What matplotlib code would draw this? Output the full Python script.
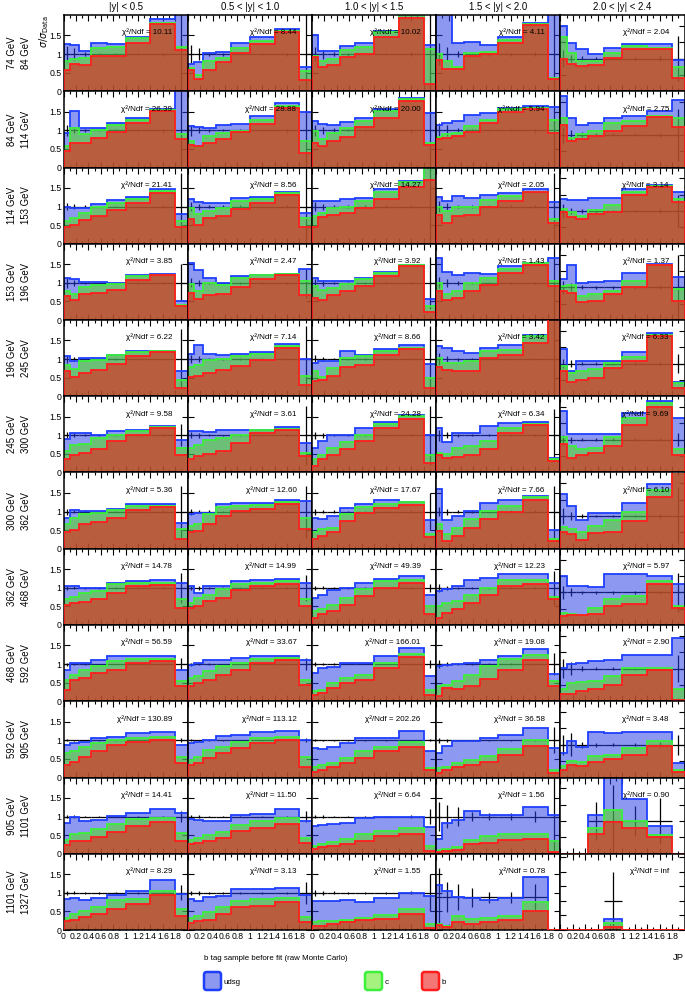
import numpy as np
import matplotlib
matplotlib.use('Agg')
import matplotlib.pyplot as plt
from matplotlib.patches import FancyBboxPatch

plt.rcParams['font.family'] = ['Liberation Sans', 'DejaVu Sans']
plt.rcParams['mathtext.fontset'] = 'dejavusans'

nan = np.nan

# JP discriminator binning and the row / column categories
jp_edges = [0, 0.1, 0.25, 0.45, 0.7, 1.0, 1.4, 1.8, 2.0]
rapidity_bins = ['|y| < 0.5', '0.5 < |y| < 1.0', '1.0 < |y| < 1.5',
                 '1.5 < |y| < 2.0', '2.0 < |y| < 2.4']
pt_edges = [74, 84, 114, 153, 196, 245, 300, 362, 468, 592, 905, 1101, 1327]

chi2_ndf = [
    ['10.11', '8.44', '10.02', '4.11', '2.04'],
    ['26.39', '28.88', '20.00', '5.94', '2.75'],
    ['21.41', '8.56', '14.27', '2.05', '3.14'],
    ['3.85', '2.47', '3.92', '1.43', '1.37'],
    ['6.22', '7.14', '8.66', '3.42', '6.33'],
    ['9.58', '3.61', '24.28', '6.34', '9.69'],
    ['5.36', '12.60', '17.67', '7.66', '6.10'],
    ['14.78', '14.99', '49.39', '12.23', '5.97'],
    ['56.59', '33.67', '166.01', '19.08', '2.90'],
    ['130.89', '113.12', '202.26', '36.58', '3.48'],
    ['14.41', '11.50', '6.64', '1.56', '0.90'],
    ['8.29', '3.13', '1.55', '0.78', 'inf'],
]

# stacked heights (sigma/sigma_data): udsg+c+b, c+b, b
stack_udsg = [
    [[1.28, 1.25, 1.09, 1.3, 1.27, 1.45, 1.95, 2.2], [0.72, 0.78, 1.04, 1.05, 1.3, 1.45, 1.68, 0.64],
     [1.5, 1.07, 1.07, 1.22, 1.31, 1.63, 2.2, 1.25], [2.2, 2.2, 1.31, 1.33, 1.24, 1.45, 1.83, 2.2],
     [2.0, 1.47, 1.28, 1.13, 1.33, 1.45, 1.43, 0.97]],
    [[0.94, 1.52, 1.07, 1.07, 1.2, 1.32, 1.56, 2.2], [1.12, 1.1, 1.07, 1.13, 1.18, 1.38, 1.74, 1.5],
     [1.25, 1.16, 1.13, 1.21, 1.34, 1.56, 1.88, 1.47], [1.13, 1.19, 1.25, 1.4, 1.47, 1.6, 1.65, 1.63],
     [2.17, 1.52, 1.31, 1.36, 1.52, 1.57, 1.72, 2.05]],
    [[1.0, 0.95, 0.95, 1.06, 1.17, 1.25, 1.47, 0.79], [1.2, 1.12, 1.09, 1.1, 1.24, 1.27, 1.4, 0.84],
     [1.15, 1.16, 1.16, 1.2, 1.22, 1.47, 1.69, 2.25], [1.26, 1.15, 1.29, 1.23, 1.31, 1.36, 1.47, 1.12],
     [1.37, 1.34, 1.35, 1.4, 1.4, 1.66, 1.78, 1.58]],
    [[1.13, 1.1, 1.02, 1.02, 1.0, 1.22, 1.25, 0.52], [1.54, 1.34, 1.13, 1.0, 1.18, 1.22, 1.25, 1.36],
     [1.13, 1.04, 1.04, 1.04, 1.13, 1.29, 1.49, 0.57], [1.67, 1.3, 1.2, 1.27, 1.25, 1.45, 1.54, 1.67],
     [1.25, 1.67, 1.13, 1.15, 1.2, 1.45, 1.71, 1.3]],
    [[1.07, 0.94, 1.04, 1.02, 1.12, 1.21, 1.23, 0.69], [1.13, 1.38, 1.13, 1.1, 1.13, 1.2, 1.4, 1.0],
     [0.89, 0.94, 0.94, 1.21, 1.12, 1.28, 1.37, 0.87], [1.34, 1.29, 1.21, 1.16, 1.31, 1.38, 1.65, 2.2],
     [1.44, 0.77, 1.08, 1.08, 1.08, 1.35, 1.92, 0.44]],
    [[0.91, 1.06, 1.06, 1.02, 1.11, 1.13, 1.24, 0.88], [1.11, 1.11, 1.09, 1.13, 1.13, 1.15, 1.21, 0.8],
     [0.66, 0.84, 1.02, 1.02, 1.2, 1.36, 1.55, 1.02], [1.2, 0.82, 1.06, 1.06, 1.24, 1.33, 1.36, 0.39],
     [1.87, 1.17, 1.17, 1.17, 1.17, 1.81, 2.19, 1.68]],
    [[0.84, 1.04, 1.02, 1.02, 1.08, 1.2, 1.2, 0.68], [0.93, 0.95, 0.97, 1.21, 1.22, 1.23, 1.3, 1.29],
     [0.84, 0.79, 0.88, 1.09, 1.2, 1.3, 1.27, 0.77], [1.6, 0.77, 0.88, 1.02, 1.23, 1.3, 1.42, 0.5],
     [1.68, 1.32, 0.88, 1.09, 1.09, 1.4, 1.99, 2.35]],
    [[1.04, 1.04, 1.0, 1.0, 1.13, 1.18, 1.2, 1.13], [1.04, 0.87, 1.04, 1.04, 1.18, 1.2, 1.25, 1.13],
     [0.73, 0.82, 0.93, 1.0, 1.13, 1.25, 1.31, 0.8], [0.91, 0.96, 1.04, 1.22, 1.27, 1.36, 1.36, 1.13],
     [1.51, 1.2, 1.2, 1.17, 1.56, 1.56, 1.51, 1.25]],
    [[0.85, 1.03, 1.04, 1.1, 1.22, 1.21, 1.21, 0.85], [0.98, 1.03, 1.1, 1.1, 1.16, 1.21, 1.22, 1.1],
     [0.76, 0.89, 0.92, 1.04, 1.04, 1.21, 1.43, 0.67], [0.94, 0.98, 1.01, 1.04, 1.12, 1.21, 1.4, 0.74],
     [1.03, 1.13, 1.16, 1.23, 1.26, 1.41, 1.41, 1.92]],
    [[0.88, 0.92, 0.96, 1.05, 1.1, 1.19, 1.23, 0.88], [0.92, 0.96, 1.0, 1.12, 1.14, 1.21, 1.26, 1.0],
     [0.79, 0.76, 0.81, 0.92, 1.05, 1.05, 1.26, 0.7], [0.65, 0.85, 0.99, 0.99, 1.05, 1.14, 1.32, 0.79],
     [0.75, 1.11, 0.93, 1.38, 1.35, 1.4, 1.4, 0.44]],
    [[0.82, 1.0, 0.87, 0.9, 1.02, 1.1, 1.2, 1.1], [0.93, 0.9, 0.88, 0.88, 1.04, 1.06, 1.2, 0.88],
     [0.74, 0.77, 0.79, 0.82, 0.96, 1.0, 1.0, 0.72], [0.4, 0.84, 0.9, 1.16, 1.03, 1.03, 1.26, 1.03],
     [0, 0, 0, 1.18, 2.4, 1.67, 0.85, 0]],
    [[0.83, 0.87, 0.81, 0.87, 0.94, 1.06, 1.35, 0.96], [0.83, 0.78, 0.89, 0.91, 1.09, 1.11, 1.13, 0.94],
     [0.79, 0.79, 0.79, 0.81, 0.74, 0.85, 1.0, 0.91], [1.2, 1.05, 0.9, 0.87, 0.8, 0.85, 1.43, 0],
     [0, 0, 0, 0, 0.37, 0, 0, 0]],
]

stack_c = [
    [[0.82, 0.86, 0.9, 1.15, 1.18, 1.42, 1.83, 1.2], [0.62, 0.45, 0.8, 0.9, 1.15, 1.35, 1.62, 0.55],
     [0.95, 0.8, 0.86, 1.1, 1.2, 1.58, 2.1, 1.13], [1.0, 0.8, 0.64, 1.02, 1.05, 1.38, 1.8, 0.35],
     [1.65, 1.18, 0.93, 0.93, 1.18, 1.38, 1.33, 0.73]],
    [[0.58, 1.07, 0.89, 1.0, 1.15, 1.27, 1.54, 0.89], [0.71, 0.54, 0.85, 0.94, 0.98, 1.29, 1.65, 0.71],
     [0.98, 0.76, 0.94, 1.07, 1.25, 1.52, 1.83, 0.67], [0.83, 0.89, 0.94, 1.12, 1.29, 1.56, 1.6, 1.29],
     [1.52, 0.91, 1.01, 1.11, 1.36, 1.41, 1.57, 1.5]],
    [[0.62, 0.68, 0.84, 1.0, 1.1, 1.2, 1.42, 0.6], [0.97, 0.79, 0.88, 0.95, 1.15, 1.2, 1.36, 0.7],
     [0.75, 0.84, 0.97, 1.0, 1.15, 1.4, 1.65, 2.2], [1.0, 0.88, 1.0, 1.0, 1.18, 1.29, 1.4, 0.66],
     [1.07, 0.96, 0.86, 1.02, 1.17, 1.57, 1.76, 1.37]],
    [[0.78, 0.69, 0.89, 0.93, 0.96, 1.18, 1.22, 0.39], [0.96, 0.78, 1.0, 0.93, 1.13, 1.2, 1.23, 1.04],
     [0.91, 0.8, 0.87, 0.96, 1.1, 1.27, 1.47, 0.38], [1.0, 0.69, 0.78, 1.0, 1.13, 1.36, 1.52, 1.04],
     [1.05, 1.07, 0.74, 0.79, 0.9, 1.2, 1.69, 0.94]],
    [[0.85, 0.74, 0.94, 0.98, 1.1, 1.18, 1.22, 0.45], [0.78, 0.85, 0.98, 1.0, 1.08, 1.13, 1.34, 0.54],
     [0.67, 0.51, 0.76, 1.02, 1.07, 1.22, 1.31, 0.49], [1.02, 0.89, 0.89, 0.94, 1.22, 1.25, 1.63, 2.15],
     [0.92, 0.72, 0.77, 0.82, 1.03, 1.2, 1.88, 0.41]],
    [[0.59, 0.75, 0.77, 0.93, 1.02, 1.11, 1.21, 0.66], [0.66, 0.75, 0.88, 0.93, 1.0, 1.13, 1.18, 0.53],
     [0.35, 0.48, 0.66, 0.82, 1.0, 1.3, 1.51, 0.46], [0.53, 0.5, 0.66, 0.71, 0.84, 1.2, 1.3, 0.37],
     [1.1, 0.81, 0.71, 0.76, 1.07, 1.66, 2.13, 0.71]],
    [[0.66, 0.84, 0.93, 0.97, 1.04, 1.16, 1.16, 0.53], [0.62, 0.66, 0.93, 1.11, 1.16, 1.17, 1.27, 0.82],
     [0.44, 0.53, 0.57, 0.93, 1.11, 1.21, 1.25, 0.39], [0.66, 0.39, 0.57, 0.79, 1.02, 1.16, 1.38, 0.26],
     [0.66, 0.61, 0.5, 0.71, 0.88, 1.12, 1.78, 2.35]],
    [[0.69, 0.75, 0.87, 0.91, 1.09, 1.13, 1.14, 0.69], [0.6, 0.73, 0.8, 0.96, 1.09, 1.13, 1.18, 0.69],
     [0.38, 0.42, 0.55, 0.73, 0.96, 1.18, 1.2, 0.51], [0.51, 0.6, 0.64, 0.82, 1.0, 1.2, 1.22, 0.75],
     [0.38, 0.33, 0.31, 0.53, 0.79, 0.89, 1.35, 0.58]],
    [[0.58, 0.71, 0.85, 0.94, 1.07, 1.13, 1.13, 0.54], [0.62, 0.67, 0.8, 0.94, 1.03, 1.13, 1.16, 0.56],
     [0.27, 0.31, 0.49, 0.62, 0.71, 1.04, 1.28, 0.31], [0.4, 0.45, 0.54, 0.71, 0.94, 1.13, 1.25, 0.54],
     [0.36, 0.56, 0.58, 0.62, 0.77, 1.03, 1.03, 0.38]],
    [[0.65, 0.7, 0.83, 0.92, 1.0, 1.05, 1.1, 0.56], [0.47, 0.56, 0.74, 0.83, 0.96, 1.05, 1.1, 0.56],
     [0.29, 0.34, 0.4, 0.52, 0.7, 0.83, 0.96, 0.25], [0.25, 0.29, 0.38, 0.47, 0.58, 0.76, 1.0, 0.21],
     [0.34, 0.49, 0.46, 0.65, 0.7, 0.9, 1.11, 0.24]],
    [[0.37, 0.53, 0.56, 0.67, 0.8, 0.93, 0.96, 0.55], [0.37, 0.42, 0.5, 0.58, 0.78, 0.87, 0.96, 0.42],
     [0.21, 0.25, 0.32, 0.39, 0.53, 0.61, 0.68, 0.21], [0.1, 0.14, 0.19, 0.36, 0.48, 0.52, 0.54, 0.33],
     [0, 0, 0, 0.78, 1.35, 1.0, 0.58, 0]],
    [[0.33, 0.43, 0.5, 0.63, 0.81, 0.84, 1.04, 0.57], [0.33, 0.37, 0.48, 0.63, 0.78, 0.83, 0.85, 0.35],
     [0.21, 0.24, 0.25, 0.28, 0.32, 0.39, 0.56, 0.15], [0.17, 0.1, 0.37, 0.3, 0.33, 0.37, 0.74, 0],
     [0, 0, 0, 0, 0.25, 0, 0, 0]],
]

stack_b = [
    [[0.57, 0.73, 0.7, 0.96, 0.96, 1.29, 1.8, 1.12], [0.58, 0.33, 0.57, 0.78, 1.03, 1.27, 1.6, 0.31],
     [0.92, 0.64, 0.71, 0.92, 1.0, 1.45, 1.96, 0.2], [0.85, 0.6, 0.6, 0.96, 1.0, 1.3, 1.78, 0.33],
     [1.0, 0.83, 0.78, 0.8, 1.03, 1.3, 1.3, 0.39]],
    [[0.45, 0.67, 0.67, 0.8, 0.96, 1.2, 1.52, 0.76], [0.61, 0.58, 0.67, 0.76, 0.96, 1.16, 1.61, 0.4],
     [0.67, 0.58, 0.71, 0.83, 1.09, 1.34, 1.8, 0.61], [0.76, 0.8, 0.85, 0.96, 1.2, 1.5, 1.58, 0.94],
     [1.31, 0.81, 0.86, 0.96, 1.11, 1.26, 1.55, 1.25]],
    [[0.45, 0.5, 0.65, 0.75, 0.92, 1.1, 1.36, 0.46], [0.66, 0.5, 0.7, 0.75, 0.93, 1.09, 1.31, 0.46],
     [0.44, 0.71, 0.77, 0.84, 0.97, 1.21, 1.52, 1.71], [0.77, 0.57, 0.75, 0.77, 1.0, 1.16, 1.38, 0.57],
     [0.96, 0.81, 0.76, 0.92, 0.96, 1.5, 1.74, 1.27]],
    [[0.64, 0.54, 0.69, 0.73, 0.8, 1.07, 1.2, 0.38], [0.73, 0.57, 0.66, 0.69, 0.89, 1.09, 1.2, 0.66],
     [0.6, 0.55, 0.66, 0.78, 0.91, 1.18, 1.45, 0.21], [0.78, 0.55, 0.6, 0.78, 0.93, 1.27, 1.49, 0.91],
     [0.89, 0.84, 0.55, 0.58, 0.79, 1.0, 1.68, 0.58]],
    [[0.67, 0.51, 0.62, 0.7, 0.87, 1.07, 1.2, 0.21], [0.52, 0.55, 0.62, 0.71, 0.8, 0.98, 1.31, 0.31],
     [0.4, 0.45, 0.54, 0.78, 0.83, 1.12, 1.28, 0.22], [0.78, 0.71, 0.67, 0.67, 1.02, 1.12, 1.43, 2.1],
     [0.77, 0.44, 0.51, 0.56, 0.87, 1.08, 1.85, 0.26]],
    [[0.35, 0.48, 0.53, 0.62, 0.84, 1.0, 1.2, 0.48], [0.35, 0.44, 0.5, 0.57, 0.8, 1.06, 1.15, 0.44],
     [0.17, 0.35, 0.48, 0.62, 0.84, 1.2, 1.44, 0.26], [0.46, 0.39, 0.41, 0.48, 0.62, 1.06, 1.29, 0.32],
     [0.86, 0.45, 0.55, 0.6, 0.81, 1.46, 2.01, 0.53]],
    [[0.44, 0.5, 0.66, 0.71, 0.84, 1.04, 1.11, 0.26], [0.44, 0.48, 0.66, 0.88, 1.02, 1.06, 1.2, 0.53],
     [0.26, 0.35, 0.44, 0.75, 0.95, 1.09, 1.18, 0.32], [0.48, 0.21, 0.35, 0.57, 0.79, 1.0, 1.3, 0.21],
     [0.5, 0.45, 0.27, 0.47, 0.52, 0.86, 1.58, 2.35]],
    [[0.55, 0.6, 0.63, 0.69, 0.87, 1.04, 1.07, 0.46], [0.46, 0.51, 0.64, 0.73, 0.93, 1.04, 1.11, 0.51],
     [0.2, 0.29, 0.38, 0.55, 0.78, 1.0, 1.13, 0.29], [0.2, 0.33, 0.42, 0.6, 0.82, 1.04, 1.11, 0.69],
     [0.28, 0.31, 0.3, 0.35, 0.58, 0.64, 1.25, 0.53]],
    [[0.31, 0.58, 0.62, 0.76, 0.85, 1.04, 1.07, 0.4], [0.4, 0.49, 0.58, 0.71, 0.85, 1.04, 1.1, 0.45],
     [0.18, 0.22, 0.36, 0.49, 0.58, 0.89, 1.19, 0.18], [0.15, 0.36, 0.33, 0.42, 0.6, 0.85, 1.12, 0.4],
     [0.21, 0.21, 0.31, 0.36, 0.51, 0.79, 0.95, 0.05]],
    [[0.34, 0.43, 0.56, 0.7, 0.88, 0.96, 1.0, 0.38], [0.34, 0.4, 0.52, 0.65, 0.79, 0.92, 1.0, 0.29],
     [0.16, 0.21, 0.28, 0.38, 0.52, 0.7, 0.83, 0.21], [0.13, 0.21, 0.28, 0.34, 0.43, 0.61, 0.86, 0.13],
     [0.24, 0.39, 0.34, 0.46, 0.56, 0.7, 0.95, 0.18]],
    [[0.24, 0.33, 0.35, 0.44, 0.58, 0.75, 0.86, 0.35], [0.27, 0.28, 0.35, 0.42, 0.6, 0.69, 0.81, 0.28],
     [0.14, 0.17, 0.21, 0.25, 0.34, 0.47, 0.52, 0.08], [0.05, 0.08, 0.11, 0.27, 0.29, 0.36, 0.4, 0.05],
     [0, 0, 0, 0.61, 0.98, 0.78, 0.51, 0]],
    [[0.24, 0.28, 0.35, 0.43, 0.57, 0.7, 0.93, 0.37], [0.19, 0.23, 0.28, 0.43, 0.63, 0.65, 0.74, 0.22],
     [0.11, 0.12, 0.17, 0.21, 0.26, 0.3, 0.44, 0.06], [0.13, 0.07, 0.22, 0.17, 0.22, 0.26, 0.52, 0],
     [0, 0, 0, 0, 0.11, 0, 0, 0]],
]

# data points (ratio to itself) and their vertical error bars, nan = no data
data_ratio = [[1.0] * 5 for _ in range(11)] + [[1.0, 1.0, 1.0, 0.88, 1.0]]
data_err = [
    [[0.22, 0.15, 0.06, 0.04, 0.03, 0.03, 0.04, 1.1], [0.25, 0.15, 0.06, 0.04, 0.03, 0.03, 0.04, 1.1],
     [0.2, 0.12, 0.06, 0.04, 0.03, 0.03, 0.05, 1.1], [0.3, 0.2, 0.08, 0.05, 0.04, 0.04, 0.05, 1.1],
     [0.25, 0.12, 0.08, 0.05, 0.05, 0.05, 0.08, 0.7]],
    [[0.15, 0.08, 0.04, 0.03, 0.03, 0.03, 0.04, 1.0], [0.15, 0.08, 0.04, 0.03, 0.03, 0.03, 0.04, 1.0],
     [0.15, 0.1, 0.05, 0.03, 0.03, 0.03, 0.04, 1.0], [0.2, 0.15, 0.06, 0.04, 0.03, 0.03, 0.04, 1.0],
     [0.25, 0.15, 0.08, 0.05, 0.05, 0.05, 0.06, 0.8]],
    [[0.1, 0.06, 0.03, 0.02, 0.02, 0.02, 0.03, 0.9], [0.12, 0.08, 0.04, 0.03, 0.03, 0.02, 0.03, 1.0],
     [0.12, 0.08, 0.04, 0.03, 0.03, 0.03, 0.04, 1.0], [0.15, 0.1, 0.05, 0.04, 0.03, 0.03, 0.04, 0.9],
     [0.2, 0.1, 0.06, 0.05, 0.04, 0.04, 0.06, 0.5]],
    [[0.15, 0.08, 0.03, 0.02, 0.02, 0.02, 0.03, 0.5], [0.12, 0.08, 0.03, 0.02, 0.02, 0.02, 0.03, 0.4],
     [0.1, 0.08, 0.03, 0.02, 0.02, 0.02, 0.03, 0.7], [0.15, 0.1, 0.05, 0.03, 0.03, 0.03, 0.03, 1.0],
     [0.2, 0.12, 0.06, 0.05, 0.04, 0.04, 0.06, 1.0]],
    [[0.1, 0.06, 0.03, 0.02, 0.02, 0.02, 0.03, 0.8], [0.1, 0.08, 0.03, 0.02, 0.02, 0.02, 0.03, 0.9],
     [0.1, 0.06, 0.03, 0.02, 0.02, 0.02, 0.03, 0.9], [0.15, 0.08, 0.04, 0.03, 0.03, 0.03, 0.03, 1.0],
     [0.15, 0.1, 0.05, 0.04, 0.04, 0.04, 0.05, 0.3]],
    [[0.08, 0.05, 0.03, 0.02, 0.02, 0.02, 0.03, 0.3], [0.08, 0.06, 0.03, 0.02, 0.02, 0.02, 0.03, 0.8],
     [0.1, 0.06, 0.03, 0.02, 0.02, 0.02, 0.03, 0.8], [0.15, 0.08, 0.04, 0.03, 0.03, 0.03, 0.03, 0.7],
     [0.15, 0.1, 0.05, 0.04, 0.04, 0.04, 0.05, 0.2]],
    [[0.08, 0.05, 0.03, 0.02, 0.02, 0.02, 0.03, 0.7], [0.08, 0.05, 0.03, 0.02, 0.02, 0.02, 0.03, 0.7],
     [0.08, 0.05, 0.03, 0.02, 0.02, 0.02, 0.03, 0.5], [0.12, 0.08, 0.04, 0.03, 0.03, 0.03, 0.03, 0.7],
     [0.25, 0.12, 0.06, 0.04, 0.04, 0.04, 0.05, 0.9]],
    [[0.06, 0.04, 0.02, 0.02, 0.02, 0.02, 0.02, 0.4], [0.06, 0.05, 0.02, 0.02, 0.02, 0.02, 0.02, 0.35],
     [0.06, 0.04, 0.02, 0.02, 0.02, 0.02, 0.02, 0.1], [0.1, 0.06, 0.03, 0.02, 0.02, 0.02, 0.03, 0.45],
     [0.2, 0.12, 0.05, 0.04, 0.04, 0.04, 0.05, 0.6]],
    [[0.04, 0.03, 0.02, 0.01, 0.01, 0.01, 0.02, 0.15], [0.04, 0.03, 0.02, 0.01, 0.01, 0.01, 0.02, 0.15],
     [0.05, 0.03, 0.02, 0.01, 0.01, 0.01, 0.02, 0.1], [0.1, 0.06, 0.03, 0.02, 0.02, 0.02, 0.03, 0.3],
     [0.3, 0.2, 0.08, 0.05, 0.05, 0.05, 0.06, 0.4]],
    [[0.03, 0.02, 0.01, 0.01, 0.01, 0.01, 0.01, 0.05], [0.03, 0.02, 0.01, 0.01, 0.01, 0.01, 0.01, 0.05],
     [0.03, 0.02, 0.01, 0.01, 0.01, 0.01, 0.01, 0.03], [0.06, 0.04, 0.02, 0.02, 0.02, 0.02, 0.02, 0.35],
     [0.3, 0.35, 0.1, 0.06, 0.05, 0.05, 0.08, 0.3]],
    [[0.05, 0.03, 0.02, 0.02, 0.02, 0.02, 0.02, 0.15], [0.05, 0.04, 0.02, 0.02, 0.02, 0.02, 0.02, 0.15],
     [0.05, 0.04, 0.02, 0.02, 0.02, 0.02, 0.03, 0.2], [0.4, 0.3, 0.25, 0.12, 0.1, 0.1, 0.15, 1.1],
     [nan, nan, nan, 0.57, 1.1, 0.47, 0.7, nan]],
    [[0.06, 0.04, 0.03, 0.02, 0.02, 0.02, 0.03, 0.2], [0.06, 0.05, 0.03, 0.02, 0.02, 0.02, 0.03, 0.3],
     [0.08, 0.05, 0.04, 0.03, 0.03, 0.03, 0.04, 0.5], [0.8, 0.4, 0.35, 0.25, 0.15, 0.15, 0.35, nan],
     [nan, nan, nan, nan, 1.0, nan, nan, nan]],
]

# figure geometry in pixels (685 x 994)
W, H = 685, 994
x0, x1 = 63.5, 684.5
y0, y1 = 15.0, 930.0
pw = (x1 - x0) / 5
ph = (y1 - y0) / 12

fill_udsg = (0.16, 0.24, 0.90, 0.53)
fill_c = (0.31, 0.90, 0.0, 0.5)
fill_b = (0.92, 0.11, 0.09, 0.6)
line_udsg = '#1f3fff'
line_c = '#3cf03c'
line_b = '#ff1e1e'

fig = plt.figure(figsize=(W / 100, H / 100), dpi=100)

# background axes in pixel coordinates for labels and legend
bg = fig.add_axes([0, 0, 1, 1], zorder=-1)
bg.set_xlim(0, W)
bg.set_ylim(H, 0)
bg.axis('off')

edges = np.array(jp_edges)
centers = 0.5 * (edges[1:] + edges[:-1])
half = 0.5 * np.diff(edges)

for r in range(12):
    for c in range(5):
        ax = fig.add_axes([(x0 + c * pw) / W, 1 - (y0 + (r + 1) * ph) / H, pw / W, ph / H])

        err = np.array(data_err[r][c], dtype=float)
        ok = ~np.isnan(err)
        ax.errorbar(centers[ok], np.full(ok.sum(), data_ratio[r][c]), xerr=half[ok], yerr=err[ok],
                    fmt='none', ecolor='black', elinewidth=0.9, capsize=0, zorder=1)

        layers = [(stack_udsg, fill_udsg, line_udsg), (stack_c, fill_c, line_c), (stack_b, fill_b, line_b)]
        z = 2
        for vals, fc, lc in layers:
            v = np.array(vals[r][c], dtype=float)
            ax.stairs(v, edges, fill=True, facecolor=fc, edgecolor='none', linewidth=0, zorder=z)
            ax.stairs(v, edges, fill=False, color=lc, linewidth=1.3, baseline=0, zorder=z + 0.1)
            z += 0.2

        ax.text(0.875, 0.77, 'χ²/Ndf = ' + chi2_ndf[r][c], transform=ax.transAxes,
                ha='right', va='center', fontsize=5.8, zorder=6)

        ax.set_xlim(0, 2.0)
        if c < 4:
            ax.set_ylim(0, 2.05)
            ax.set_yticks([0, 0.5, 1, 1.5])
        elif r < 11:
            ax.set_ylim(0, 2.33)
            ax.set_yticks([0, 0.5, 1, 1.5, 2])
        else:
            ax.set_ylim(0, 2.62)
            ax.set_yticks([0, 0.5, 1, 1.5, 2, 2.5])

        ax.set_xticks([0, 0.2, 0.4, 0.6, 0.8, 1.0, 1.2, 1.4, 1.6, 1.8])
        ax.set_xticks([0.1, 0.3, 0.5, 0.7, 0.9, 1.1, 1.3, 1.5, 1.7, 1.9], minor=True)
        ax.tick_params(which='both', direction='in', top=True, right=True, width=0.8)
        ax.tick_params(which='major', length=4.5)
        ax.tick_params(which='minor', length=2.5)
        ax.tick_params(axis='y', labelsize=6.3, pad=1.5)
        ax.tick_params(axis='x', labelsize=6.2, pad=1.5)

        if c == 0:
            ax.set_yticklabels(['0', '0.5', '1', '1.5'])
        else:
            ax.set_yticklabels([])
        if r == 11:
            ax.set_xticklabels(['0', '0.2', '0.4', '0.6', '0.8', '1', '1.2', '1.4', '1.6', '1.8'])
        else:
            ax.set_xticklabels([])

        for sp in ax.spines.values():
            sp.set_linewidth(1.1)

# column headers
for c in range(5):
    bg.text(x0 + (c + 0.5) * pw, 6.5, rapidity_bins[c], ha='center', va='center', fontsize=6.9)

# row labels (pt ranges)
for r in range(12):
    bg.text(19, y0 + (r + 0.5) * ph, f'{pt_edges[r]} GeV\n{pt_edges[r + 1]} GeV', rotation=90,
            ha='center', va='center', fontsize=6.9, linespacing=1.55)

bg.text(44, 15, r'$\sigma/\sigma_{\mathrm{Data}}$', rotation=90, ha='center', va='top', fontsize=6.9)

bg.text(204, 958, 'b tag sample before fit (raw Monte Carlo)', ha='left', va='center', fontsize=5.7)
bg.text(684, 958, 'JP', ha='right', va='center', fontsize=6.8)

# legend boxes
legend_items = [('udsg', 204, fill_udsg, line_udsg), ('c', 365, fill_c, line_c), ('b', 422, fill_b, line_b)]
for label, lx, fc, lc in legend_items:
    box = FancyBboxPatch((lx, 972), 17, 18, boxstyle='round,pad=0,rounding_size=2.5',
                         facecolor=fc, edgecolor=lc, linewidth=1.8)
    bg.add_patch(box)
    bg.text(lx + 20, 983, label, ha='left', va='center', fontsize=5.7)

fig.savefig('out.png', dpi=100)
